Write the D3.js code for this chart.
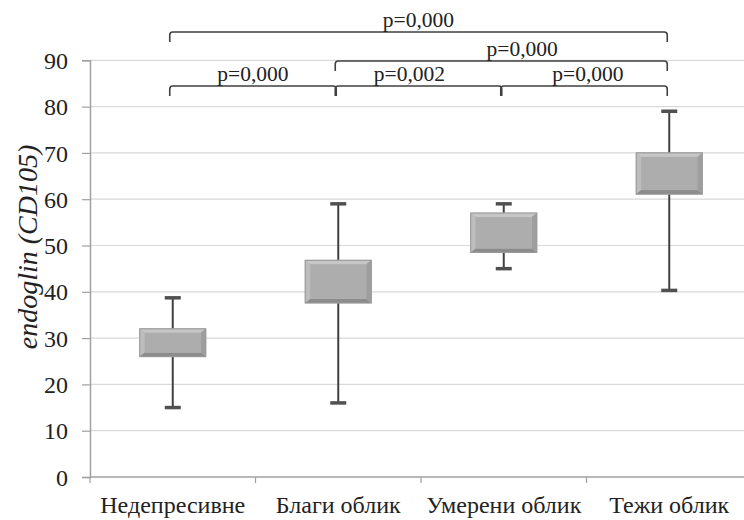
<!DOCTYPE html>
<html>
<head>
<meta charset="utf-8">
<script src="https://cdn.jsdelivr.net/npm/d3@7/dist/d3.min.js"></script>
<style>
  body { margin: 0; background: #fff; }
  svg text { font-family: "Liberation Serif", "DejaVu Serif", serif !important; fill: #222; }
</style>
</head>
<body>
<div id="chart"></div>
<script>
// box plot values
const categories = ['Недепресивне', 'Благи облик', 'Умерени облик', 'Тежи облик'];
const whiskerLow = [15, 16, 45, 40.3];
const q1 = [26, 37.6, 48.5, 61.1];
const q3 = [32, 46.8, 57, 70];
const whiskerHigh = [38.7, 59, 59, 79];
const yTicks = [0, 10, 20, 30, 40, 50, 60, 70, 80, 90];

// pairwise comparisons: [from, to, level, label]
const compFrom = [0, 1, 0, 1, 2];
const compTo = [3, 3, 1, 2, 3];
const compLevel = [0, 1, 2, 2, 2];
const compLabel = ['p=0,000', 'p=0,000', 'p=0,000', 'p=0,002', 'p=0,000'];

// layout only
const labelShift = [0, 21, 0, -9, 4];
const levelY = [32, 61, 86];

function boxChart() {
  let width = 744, height = 520,
    margin = { top: 60, left: 90, bottom: 43 };
  let plotBottom = height - margin.bottom;

  function chart(selector) {
    let svg = d3.select(selector)
      .append('svg')
      .attr('width', width)
      .attr('height', height);

    let x = d3.scaleBand().domain(categories).range([margin.left, 752]);
    let y = d3.scaleLinear().domain([0, 90]).range([plotBottom, margin.top + 0.3]);
    let cx = function(i) { return x(categories[i]) + x.bandwidth() / 2; };

    // gridlines
    svg.append('g')
      .selectAll('line')
      .data(yTicks.filter(function(d) { return d > 0; }))
      .enter().append('line')
      .attr('x1', margin.left).attr('x2', width)
      .attr('y1', function(d) { return y(d); })
      .attr('y2', function(d) { return y(d); })
      .attr('stroke', '#d9d9d9')
      .attr('stroke-width', 1.2);

    // y axis
    let yAxis = svg.append('g')
      .attr('transform', 'translate(' + margin.left + ',0)')
      .call(d3.axisLeft(y).tickValues(yTicks).tickSize(8).tickPadding(14));
    yAxis.attr('font-family', null).attr('font-size', null);
    yAxis.select('.domain').attr('stroke', '#a0a0a0').attr('stroke-width', 1.5);
    yAxis.selectAll('.tick line').attr('stroke', '#a0a0a0').attr('stroke-width', 1.2);
    yAxis.selectAll('.tick text')
      .style('font-size', '24px')
      .attr('dy', '0.34em')
      .attr('fill', '#222');

    // x axis: ticks at band boundaries
    let xAxis = svg.append('g')
      .attr('transform', 'translate(0,' + plotBottom + ')');
    xAxis.append('line')
      .attr('x1', margin.left).attr('x2', width)
      .attr('stroke', '#a0a0a0').attr('stroke-width', 1.5);
    xAxis.selectAll('.sep')
      .data(categories)
      .enter().append('line')
      .attr('class', 'sep')
      .attr('x1', function(d) { return x(d); })
      .attr('x2', function(d) { return x(d); })
      .attr('y1', 0).attr('y2', 6)
      .attr('stroke', '#a0a0a0').attr('stroke-width', 1.2);
    xAxis.selectAll('.cat')
      .data(categories)
      .enter().append('text')
      .attr('class', 'cat')
      .attr('x', function(d) { return x(d) + x.bandwidth() / 2; })
      .attr('y', 36)
      .attr('text-anchor', 'middle')
      .style('font-size', '24px')
      .text(function(d) { return d; });

    // y axis title
    svg.append('text')
      .attr('transform', 'translate(37,247) rotate(-90)')
      .attr('text-anchor', 'middle')
      .style('font-size', '28px')
      .style('font-style', 'italic')
      .text('endoglin (CD105)');

    // whiskers
    let boxW = 66, capW = 16;
    let whisk = svg.append('g').selectAll('g')
      .data(categories)
      .enter().append('g');
    whisk.append('line')
      .attr('x1', function(d, i) { return cx(i); })
      .attr('x2', function(d, i) { return cx(i); })
      .attr('y1', function(d, i) { return y(whiskerLow[i]); })
      .attr('y2', function(d, i) { return y(whiskerHigh[i]); })
      .attr('stroke', '#404040').attr('stroke-width', 2);
    [whiskerLow, whiskerHigh].forEach(function(arr) {
      whisk.append('line')
        .attr('x1', function(d, i) { return cx(i) - capW / 2; })
        .attr('x2', function(d, i) { return cx(i) + capW / 2; })
        .attr('y1', function(d, i) { return y(arr[i]); })
        .attr('y2', function(d, i) { return y(arr[i]); })
        .attr('stroke', '#505050').attr('stroke-width', 3.5);
    });

    // bevelled boxes
    let bx = 5, by = 4;
    let boxes = svg.append('g').selectAll('g')
      .data(categories)
      .enter().append('g')
      .attr('transform', function(d, i) {
        return 'translate(' + (cx(i) - boxW / 2) + ',' + y(q3[i]) + ')';
      });
    boxes.each(function(d, i) {
      let g = d3.select(this);
      let w = boxW, h = y(q1[i]) - y(q3[i]);
      g.append('rect').attr('width', w).attr('height', h)
        .attr('fill', '#b8b8b8').attr('stroke', '#a8a8a8').attr('stroke-width', 1);
      let poly = function(pts, fill) {
        g.append('path').attr('d', 'M' + pts.map(function(p) { return p.join(','); }).join('L') + 'Z')
          .attr('fill', fill);
      };
      poly([[0, 0], [w, 0], [w - bx, by], [bx, by]], '#c6c6c6');
      poly([[0, 0], [bx, by], [bx, h - by], [0, h]], '#bdbdbd');
      poly([[w, 0], [w, h], [w - bx, h - by], [w - bx, by]], '#9e9e9e');
      poly([[0, h], [w, h], [w - bx, h - by], [bx, h - by]], '#8c8c8c');
      g.append('rect').attr('x', bx).attr('y', by)
        .attr('width', w - 2 * bx).attr('height', h - 2 * by)
        .attr('fill', '#adadad');
      g.append('rect').attr('width', w).attr('height', h)
        .attr('fill', 'none').attr('stroke', '#9a9a9a').attr('stroke-width', 1);
    });

    // significance brackets
    let drop = 10, r = 3;
    let br = svg.append('g').selectAll('g')
      .data(compLabel)
      .enter().append('g');
    br.append('path')
      .attr('d', function(d, i) {
        let x1 = cx(compFrom[i]) - 3, x2 = cx(compTo[i]) - 2, yy = levelY[compLevel[i]];
        return 'M' + x1 + ',' + (yy + drop) + 'L' + x1 + ',' + (yy + r) +
          'Q' + x1 + ',' + yy + ' ' + (x1 + r) + ',' + yy +
          'L' + (x2 - r) + ',' + yy +
          'Q' + x2 + ',' + yy + ' ' + x2 + ',' + (yy + r) +
          'L' + x2 + ',' + (yy + drop);
      })
      .attr('fill', 'none')
      .attr('stroke', '#404040')
      .attr('stroke-width', 1.6);
    br.append('text')
      .attr('x', function(d, i) {
        return (cx(compFrom[i]) + cx(compTo[i])) / 2 - 2.5 + labelShift[i];
      })
      .attr('y', function(d, i) { return levelY[compLevel[i]] - 5; })
      .attr('text-anchor', 'middle')
      .style('font-size', '21.5px')
      .text(function(d) { return d; });

    return chart;
  }
  return chart;
}

boxChart()('#chart');
</script>
</body>
</html>
